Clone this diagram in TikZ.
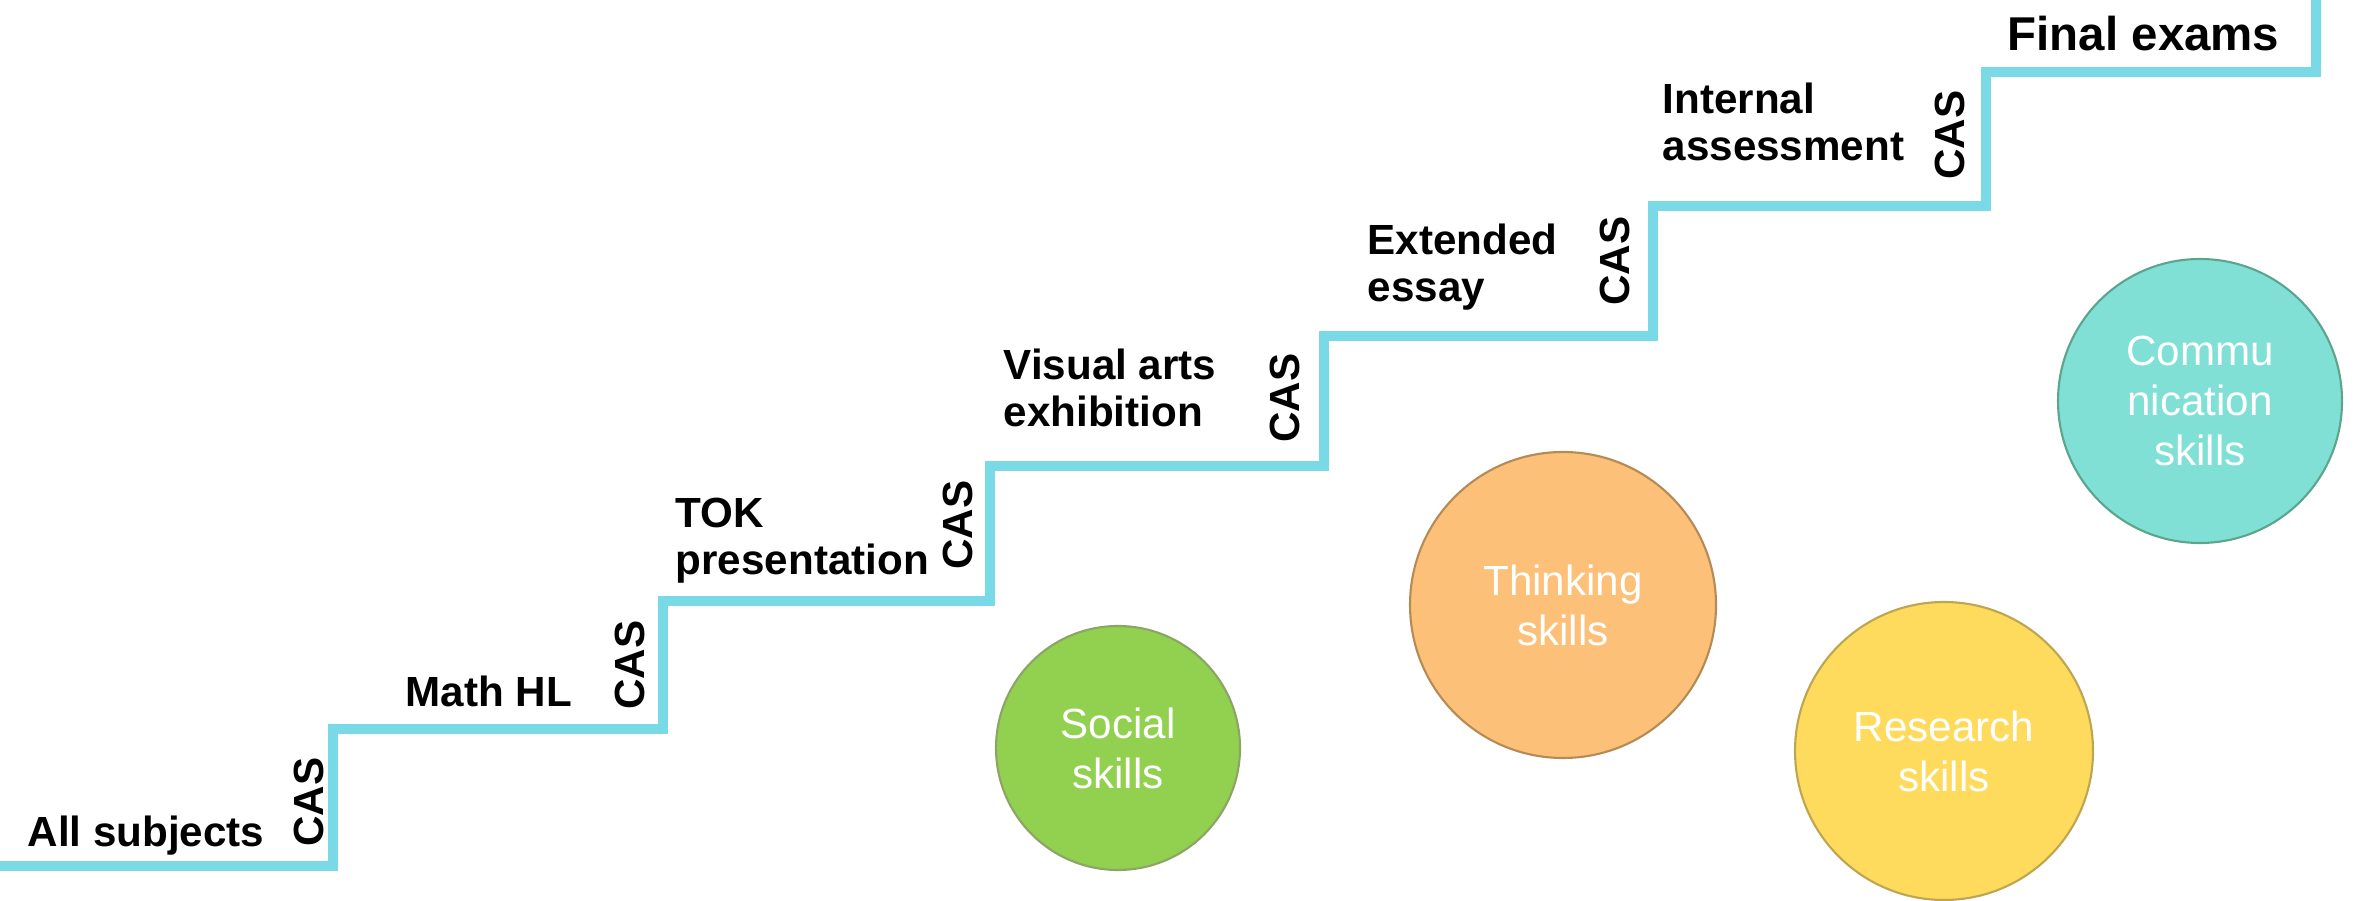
\documentclass[tikz,border=0pt]{standalone}
\usepackage{fontspec}
\setmainfont{Liberation Sans}
\definecolor{stairblue}{RGB}{122,217,230}
\definecolor{socialfill}{RGB}{146,208,80}
\definecolor{socialline}{RGB}{140,165,100}
\definecolor{thinkfill}{RGB}{252,192,120}
\definecolor{thinkline}{RGB}{180,138,85}
\definecolor{researchfill}{RGB}{254,219,92}
\definecolor{researchline}{RGB}{190,165,80}
\definecolor{commfill}{RGB}{128,224,214}
\definecolor{commline}{RGB}{90,165,140}
\begin{document}
\begin{tikzpicture}[
        stairline/.style={stairblue,line width=2.9pt},
        steptext/.style={anchor=north west,inner sep=0pt,align=left,font=\bfseries\fontsize{12}{13.4}\selectfont},
        castext/.style={rotate=90,inner sep=0pt,font=\bfseries\fontsize{12}{14}\selectfont},
        skill/.style={circle,draw,line width=0.6pt,inner sep=0pt,align=center,text=white,font=\fontsize{12}{14.2}\selectfont}
    ]
        \useasboundingbox (0,0) rectangle (23.56,9.01);
        %% Stairs
        \coordinate (S0) at (0,0.35);
        \coordinate (S1) at (3.33,0.35);
        \coordinate (S2) at (6.63,1.72);
        \coordinate (S3) at (9.90,3.00);
        \coordinate (S4) at (13.24,4.35);
        \coordinate (S5) at (16.53,5.65);
        \coordinate (S6) at (19.86,6.95);
        \coordinate (S7) at (23.16,8.29);
        \coordinate (S8) at (23.16,9.10);
        \draw[stairline] (S0) -- (S1) |- (S2) |- (S3) |- (S4) |- (S5) |- (S6) |- (S7) -- (S8);
        %% Step labels
        \node[steptext] (all) at (0.27,0.86) {All subjects};
        \node[steptext] (math) at (4.05,2.26) {Math HL};
        \node[steptext] (tok) at (6.75,4.04) {TOK\\presentation};
        \node[steptext] (visual) at (10.03,5.53) {Visual arts\\exhibition};
        \node[steptext] (essay) at (13.67,6.78) {Extended\\essay};
        \node[steptext] (internal) at (16.62,8.19) {Internal\\assessment};
        \node[steptext,font=\bfseries\fontsize{13.5}{15}\selectfont] (final) at (20.07,8.86) {Final exams};
        %% CAS
        \node[castext] (cas1) at (3.09,0.99) {CAS};
        \node[castext] (cas2) at (6.30,2.36) {CAS};
        \node[castext] (cas3) at (9.58,3.76) {CAS};
        \node[castext] (cas4) at (12.85,5.03) {CAS};
        \node[castext] (cas5) at (16.15,6.40) {CAS};
        \node[castext] (cas6) at (19.50,7.66) {CAS};
        %% Skills
        \node[skill,fill=socialfill,draw=socialline,minimum size=2.44cm] (social) at (11.18,1.53) {Social\\skills};
        \node[skill,fill=thinkfill,draw=thinkline,minimum size=3.06cm] (thinking) at (15.63,2.96) {Thinking\\skills};
        \node[skill,fill=researchfill,draw=researchline,minimum size=2.98cm] (research) at (19.44,1.50) {Research\\skills};
        \node[skill,fill=commfill,draw=commline,minimum size=2.84cm] (comm) at (22.00,5.00) {Commu\\nication\\skills};
    \end{tikzpicture}
\end{document}
